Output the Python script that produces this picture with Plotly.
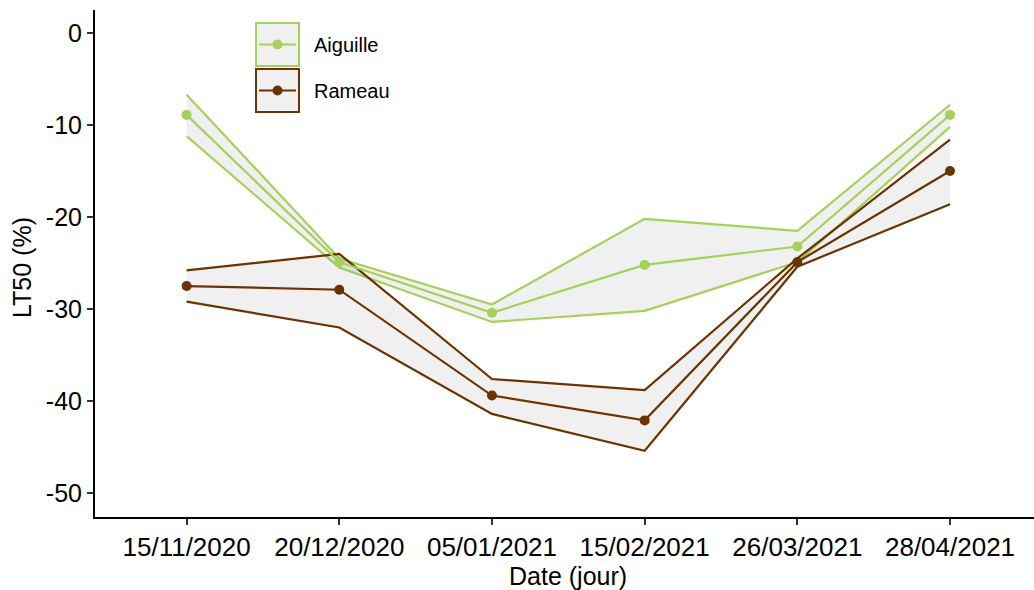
from plotly import graph_objects as go

# dates (categories)
dates = ['15/11/2020', '20/12/2020', '05/01/2021', '15/02/2021', '26/03/2021', '28/04/2021']

# Aiguille : moyenne + bornes
aig_mean = [-8.9, -24.9, -30.4, -25.2, -23.2, -8.9]
aig_up = [-6.7, -24.5, -29.5, -20.2, -21.5, -7.8]
aig_low = [-11.2, -25.5, -31.4, -30.2, -24.9, -10.2]

# Rameau : moyenne + bornes
ram_mean = [-27.5, -27.9, -39.4, -42.1, -24.9, -15.0]
ram_up = [-25.8, -24.0, -37.6, -38.8, -24.5, -11.6]
ram_low = [-29.2, -32.0, -41.4, -45.4, -25.4, -18.6]

yticks = [0, -10, -20, -30, -40, -50]
series = [('Aiguille', '#a6d05c', aig_mean, aig_up, aig_low),
          ('Rameau', '#6b3300', ram_mean, ram_up, ram_low)]

FILL = 'rgba(120,120,120,0.11)'
W, H = 1034, 590
L, R, T, B = 95, 0, 10, 73

fig = go.Figure()

# rubans (fond gris) puis bornes
for name, col, mean, up, low in series:
    fig.add_trace(go.Scatter(x=dates, y=low, mode='lines', line=dict(color=col, width=2.2),
                             showlegend=False, hoverinfo='skip'))
    fig.add_trace(go.Scatter(x=dates, y=up, mode='lines', line=dict(color=col, width=2.2),
                             fill='tonexty', fillcolor=FILL, showlegend=False, hoverinfo='skip'))

# moyennes
for name, col, mean, up, low in series:
    fig.add_trace(go.Scatter(x=dates, y=mean, mode='lines+markers', name=name,
                             line=dict(color=col, width=2.2), marker=dict(color=col, size=10),
                             showlegend=False))

# légende faite à la main (boites grises avec bord coloré)
pw = W - L - R
ph = H - T - B
def px(p):
    return (p - L) / pw
def py(p):
    return (H - B - p) / ph

shapes = []
annots = []
for i, (name, col, *_rest) in enumerate(series):
    y0 = 23 + i * 46
    shapes.append(dict(type='rect', xref='paper', yref='paper',
                       x0=px(256), x1=px(299), y0=py(y0), y1=py(y0 + 43),
                       fillcolor='#f0f0f0', line=dict(color=col, width=2), layer='above'))
    yc = y0 + 21.5
    shapes.append(dict(type='line', xref='paper', yref='paper',
                       x0=px(259), x1=px(296), y0=py(yc), y1=py(yc),
                       line=dict(color=col, width=2), layer='above'))
    shapes.append(dict(type='circle', xref='paper', yref='paper',
                       x0=px(272.5), x1=px(282.5), y0=py(yc - 5), y1=py(yc + 5),
                       fillcolor=col, line=dict(color=col, width=0), layer='above'))
    annots.append(dict(text=name, xref='paper', yref='paper', x=px(312), y=py(yc),
                       xanchor='left', yanchor='middle', showarrow=False,
                       font=dict(size=20, color='black')))

# titres des axes
annots.append(dict(text='Date (jour)', xref='paper', yref='paper', x=px(568), y=py(576),
                   xanchor='center', yanchor='middle', showarrow=False,
                   font=dict(size=25, color='black')))
annots.append(dict(text='LT50 (%)', xref='paper', yref='paper', x=px(22), y=py(268),
                   xanchor='center', yanchor='middle', showarrow=False, textangle=-90,
                   font=dict(size=25, color='black')))

fig.update_layout(
    width=W, height=H,
    margin=dict(l=L, r=R, t=T, b=B, autoexpand=False),
    plot_bgcolor='white', paper_bgcolor='white',
    font=dict(family='Liberation Sans, Arial, sans-serif', color='black'),
    shapes=shapes, annotations=annots,
    showlegend=False,
)
fig.update_xaxes(
    type='category', range=[-0.6, 5.55], automargin=False,
    showgrid=False, zeroline=False,
    showline=True, linecolor='black', linewidth=2,
    ticks='outside', ticklen=6, tickwidth=1.5, tickcolor='#333333',
    tickfont=dict(size=26, color='black'),
)
fig.update_yaxes(
    range=[-52.6, 2.5], automargin=False,
    tickvals=yticks, ticktext=[str(v) for v in yticks],
    showgrid=False, zeroline=False,
    showline=True, linecolor='black', linewidth=2,
    ticks='outside', ticklen=6, tickwidth=1.5, tickcolor='#333333',
    tickfont=dict(size=25, color='black'),
)

# pas de marge autour de la page, pas de barre d'outils
fig.write_html("out.html", config={'displayModeBar': False},
               post_script="document.body.style.margin='0';")
